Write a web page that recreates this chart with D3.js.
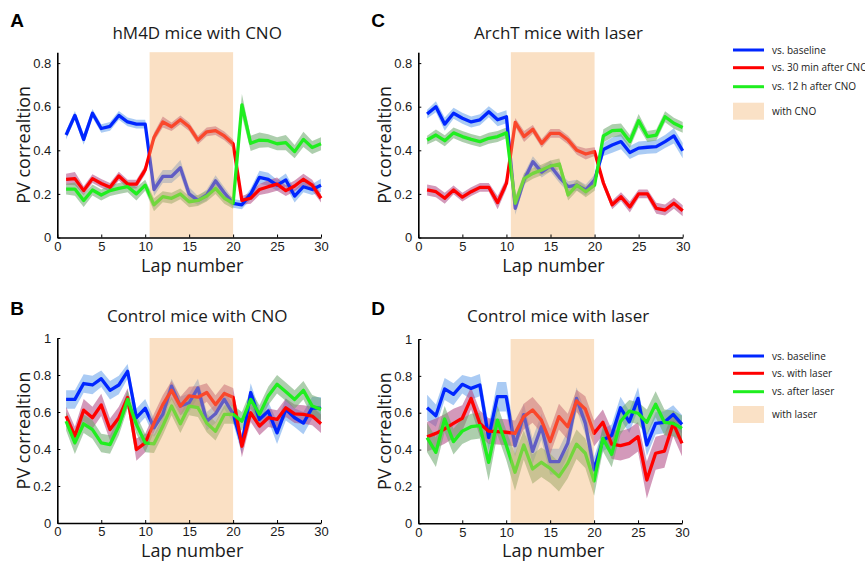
<!DOCTYPE html>
<html>
<head>
<meta charset="utf-8">
<script src="https://cdn.jsdelivr.net/npm/d3@7"></script>
<style>
  body { margin: 0; background: #fff; }
  svg { display: block; }
  .tick text { font-family: "Liberation Sans", Arial, sans-serif; font-size: 13px; fill: #1a1a1a; }
  .lbl { font-family: "Open Sans", "Noto Sans", sans-serif; fill: #1a1a1a; }
  .letter { font-family: "Liberation Sans", Arial, sans-serif; font-weight: bold; font-size: 19px; fill: #000; }
</style>
</head>
<body>
<svg width="865" height="571"></svg>
<script>
// lap numbers and axis ticks
const laps = [1,2,3,4,5,6,7,8,9,10,11,12,13,14,15,16,17,18,19,20,21,22,23,24,25,26,27,28,29,30];
const xTicks = [0, 5, 10, 15, 20, 25, 30];
const yTicksTop = [0, 0.2, 0.4, 0.6, 0.8];
const yTicksBottom = [0, 0.2, 0.4, 0.6, 0.8, 1];
const shadeLaps = [10.5, 20];

const legendCNO = ["vs. baseline", "vs. 30 min after CNO", "vs. 12 h after CNO", "with CNO"];
const legendLaser = ["vs. baseline", "vs. with laser", "vs. after laser", "with laser"];

// A: hM4D mice with CNO
const aBlue  = [0.47,0.56,0.45,0.57,0.50,0.51,0.56,0.53,0.52,0.52,0.22,0.28,0.28,0.32,0.20,0.17,0.195,0.26,0.205,0.157,0.15,0.20,0.276,0.267,0.24,0.264,0.19,0.233,0.22,0.24];
const aBlueE = [0.02,0.02,0.025,0.02,0.02,0.02,0.02,0.02,0.02,0.02,0.03,0.03,0.03,0.035,0.03,0.02,0.025,0.025,0.025,0.02,0.02,0.025,0.03,0.03,0.025,0.03,0.03,0.025,0.025,0.03];
const aRed   = [0.267,0.27,0.215,0.27,0.248,0.23,0.282,0.245,0.245,0.31,0.46,0.53,0.508,0.54,0.508,0.447,0.485,0.49,0.466,0.43,0.17,0.18,0.22,0.233,0.245,0.215,0.236,0.267,0.24,0.18];
const aRedE  = [0.025,0.03,0.02,0.02,0.02,0.02,0.02,0.02,0.02,0.02,0.02,0.025,0.02,0.02,0.02,0.02,0.02,0.02,0.02,0.02,0.02,0.025,0.025,0.03,0.03,0.025,0.025,0.025,0.025,0.02];
const aGreen = [0.222,0.222,0.17,0.218,0.195,0.215,0.225,0.233,0.20,0.24,0.15,0.187,0.18,0.20,0.164,0.17,0.19,0.225,0.18,0.157,0.608,0.432,0.447,0.444,0.43,0.435,0.394,0.45,0.413,0.43];
const aGreenE= [0.025,0.03,0.03,0.025,0.025,0.025,0.025,0.025,0.03,0.025,0.03,0.025,0.025,0.025,0.025,0.025,0.025,0.025,0.025,0.025,0.05,0.035,0.035,0.03,0.03,0.035,0.03,0.035,0.03,0.03];

// C: ArchT mice with laser
const cBlue  = [0.566,0.60,0.52,0.57,0.547,0.53,0.54,0.577,0.54,0.554,0.134,0.264,0.348,0.30,0.328,0.276,0.233,0.24,0.218,0.264,0.404,0.424,0.44,0.39,0.41,0.414,0.417,0.44,0.466,0.398];
const cBlueE = [0.02,0.025,0.03,0.025,0.025,0.025,0.025,0.025,0.03,0.03,0.03,0.03,0.025,0.025,0.025,0.025,0.025,0.025,0.025,0.025,0.03,0.035,0.035,0.03,0.03,0.03,0.03,0.03,0.035,0.035];
const cRed   = [0.218,0.21,0.18,0.218,0.185,0.21,0.23,0.23,0.16,0.248,0.528,0.463,0.496,0.432,0.478,0.478,0.447,0.40,0.383,0.394,0.25,0.15,0.187,0.14,0.20,0.20,0.134,0.126,0.157,0.123];
const cRedE  = [0.025,0.025,0.025,0.02,0.02,0.02,0.02,0.02,0.03,0.025,0.02,0.025,0.02,0.02,0.02,0.02,0.02,0.02,0.025,0.02,0.02,0.02,0.02,0.025,0.02,0.02,0.025,0.025,0.025,0.025];
const cGreen = [0.447,0.47,0.444,0.48,0.463,0.45,0.44,0.455,0.463,0.48,0.157,0.27,0.294,0.31,0.328,0.337,0.195,0.24,0.21,0.24,0.466,0.49,0.493,0.44,0.536,0.463,0.47,0.554,0.524,0.505];
const cGreenE= [0.02,0.025,0.025,0.025,0.025,0.025,0.025,0.025,0.025,0.025,0.03,0.025,0.025,0.025,0.025,0.025,0.025,0.025,0.025,0.025,0.03,0.03,0.03,0.03,0.03,0.025,0.025,0.025,0.025,0.025];

// B: Control mice with CNO
const bBlue  = [0.668,0.668,0.754,0.746,0.78,0.717,0.746,0.82,0.569,0.62,0.515,0.587,0.74,0.632,0.65,0.73,0.55,0.59,0.668,0.59,0.424,0.705,0.56,0.605,0.487,0.614,0.569,0.54,0.623,0.62];
const bBlueE = [0.05,0.05,0.05,0.05,0.045,0.05,0.05,0.04,0.05,0.05,0.05,0.05,0.04,0.05,0.05,0.05,0.05,0.05,0.05,0.05,0.05,0.05,0.05,0.05,0.06,0.06,0.05,0.06,0.06,0.06];
const bRed   = [0.578,0.47,0.61,0.569,0.638,0.505,0.569,0.678,0.397,0.433,0.54,0.64,0.717,0.632,0.687,0.68,0.705,0.64,0.70,0.68,0.415,0.596,0.524,0.569,0.56,0.623,0.59,0.587,0.578,0.536];
const bRedE  = [0.05,0.05,0.06,0.06,0.06,0.06,0.06,0.05,0.06,0.05,0.05,0.05,0.05,0.05,0.05,0.06,0.05,0.05,0.05,0.05,0.06,0.05,0.05,0.05,0.05,0.05,0.05,0.05,0.05,0.05];
const bGreen = [0.55,0.433,0.536,0.505,0.433,0.424,0.524,0.668,0.533,0.433,0.428,0.524,0.632,0.536,0.632,0.623,0.54,0.496,0.587,0.587,0.55,0.668,0.587,0.687,0.75,0.71,0.668,0.717,0.632,0.614];
const bGreenE= [0.05,0.06,0.05,0.05,0.05,0.05,0.05,0.05,0.05,0.05,0.05,0.05,0.05,0.05,0.05,0.05,0.05,0.05,0.05,0.05,0.05,0.05,0.05,0.05,0.05,0.05,0.05,0.05,0.06,0.06];

// D: Control mice with laser
const dBlue  = [0.627,0.584,0.729,0.70,0.754,0.732,0.75,0.465,0.687,0.687,0.421,0.59,0.39,0.524,0.335,0.335,0.434,0.678,0.542,0.29,0.452,0.476,0.627,0.55,0.678,0.425,0.542,0.548,0.591,0.537];
const dBlueE = [0.07,0.06,0.06,0.06,0.05,0.06,0.06,0.07,0.08,0.08,0.06,0.06,0.07,0.07,0.07,0.07,0.07,0.06,0.06,0.07,0.06,0.06,0.06,0.06,0.06,0.06,0.06,0.06,0.05,0.05];
const dRed   = [0.47,0.488,0.512,0.542,0.57,0.678,0.542,0.50,0.497,0.494,0.488,0.579,0.615,0.56,0.443,0.579,0.524,0.664,0.62,0.488,0.548,0.429,0.421,0.434,0.47,0.235,0.38,0.392,0.542,0.434];
const dRedE  = [0.08,0.08,0.08,0.08,0.07,0.06,0.07,0.07,0.07,0.07,0.07,0.07,0.07,0.07,0.07,0.07,0.07,0.06,0.07,0.07,0.07,0.08,0.08,0.08,0.08,0.1,0.09,0.09,0.07,0.07];
const dGreen = [0.465,0.385,0.566,0.443,0.50,0.524,0.53,0.331,0.56,0.425,0.277,0.425,0.295,0.331,0.298,0.253,0.325,0.429,0.38,0.23,0.461,0.374,0.552,0.609,0.597,0.548,0.646,0.548,0.542,0.515];
const dGreenE= [0.08,0.08,0.07,0.07,0.07,0.07,0.07,0.1,0.08,0.08,0.1,0.08,0.08,0.08,0.08,0.08,0.08,0.08,0.08,0.08,0.07,0.07,0.07,0.06,0.06,0.07,0.07,0.07,0.07,0.07];

const lineColors = ["#0026ff", "#ff0000", "#1fee1f"];
const bandColors = ["rgb(100,160,235)", "rgb(175,70,130)", "rgb(105,165,105)"];
const shadeColor = "rgb(242,178,108)";
const legendShade = "#fae1c6";

const svg = d3.select("svg");

function panel(p) {
  const x = d3.scaleLinear().domain([0, 30]).range([p.left, p.right]);
  const y = d3.scaleLinear().domain([0, p.ymax]).range([p.bottom, p.top]);
  const g = svg.append("g");

  const band = d3.area()
    .x((d, i) => x(laps[i]))
    .y0(d => y(d[0] - d[1]))
    .y1(d => y(d[0] + d[1]));
  const line = d3.line()
    .x((d, i) => x(laps[i]))
    .y(d => y(d));

  p.series.forEach((s, k) => {
    g.append("path")
      .datum(s.vals.map((v, i) => [v, s.err[i]]))
      .attr("d", band)
      .attr("fill", bandColors[k])
      .attr("fill-opacity", 0.55);
  });
  p.series.forEach((s, k) => {
    g.append("path")
      .datum(s.vals)
      .attr("d", line)
      .attr("fill", "none")
      .attr("stroke", lineColors[k])
      .attr("stroke-width", 3.3)
      .attr("stroke-linejoin", "round");
  });

  // shaded window, drawn over the curves
  g.append("rect")
    .attr("x", x(shadeLaps[0]))
    .attr("y", y(p.ymax))
    .attr("width", x(shadeLaps[1]) - x(shadeLaps[0]))
    .attr("height", y(0) - y(p.ymax))
    .attr("fill", shadeColor)
    .attr("fill-opacity", 0.4);

  const ya = g.append("g")
    .attr("transform", `translate(${p.left},0)`)
    .call(d3.axisLeft(y).tickValues(p.yTicks).tickFormat(d => String(d)).tickSizeInner(-3).tickSizeOuter(0).tickPadding(6));
  const xa = g.append("g")
    .attr("transform", `translate(0,${p.bottom})`)
    .call(d3.axisBottom(x).tickValues(xTicks).tickFormat(d => String(d)).tickSizeInner(-3).tickSizeOuter(0).tickPadding(4));
  [ya, xa].forEach(a => {
    a.select(".domain").attr("stroke", "#000").attr("stroke-width", 1.6);
    a.selectAll(".tick line").attr("stroke", "#000");
  });

  const cx = (p.left + p.right) / 2 + 8;
  g.append("text").attr("class", "lbl")
    .attr("x", cx).attr("y", p.titleY)
    .attr("text-anchor", "middle").attr("font-size", 17)
    .text(p.title);
  g.append("text").attr("class", "lbl")
    .attr("x", cx - 5).attr("y", p.bottom + 34)
    .attr("text-anchor", "middle").attr("font-size", 18)
    .text("Lap number");
  g.append("text").attr("class", "lbl")
    .attr("transform", `translate(${p.left - 27},${(p.top + p.bottom) / 2}) rotate(-90)`)
    .attr("text-anchor", "middle").attr("font-size", 18)
    .text("PV correaltion");
  g.append("text").attr("class", "letter")
    .attr("x", p.left - 47).attr("y", p.letterY)
    .text(p.letter);
}

panel({ letter: "A", title: "hM4D mice with CNO", left: 57.3, right: 321, top: 52.2, bottom: 237.5, ymax: 0.85,
  yTicks: yTicksTop, titleY: 38.5, letterY: 27,
  series: [{ vals: aBlue, err: aBlueE }, { vals: aRed, err: aRedE }, { vals: aGreen, err: aGreenE }] });
panel({ letter: "C", title: "ArchT mice with laser", left: 418.3, right: 682.7, top: 52.2, bottom: 237.5, ymax: 0.85,
  yTicks: yTicksTop, titleY: 38.5, letterY: 27,
  series: [{ vals: cBlue, err: cBlueE }, { vals: cRed, err: cRedE }, { vals: cGreen, err: cGreenE }] });
panel({ letter: "B", title: "Control mice with CNO", left: 57.3, right: 321, top: 338, bottom: 523, ymax: 1,
  yTicks: yTicksBottom, titleY: 322, letterY: 315,
  series: [{ vals: bBlue, err: bBlueE }, { vals: bRed, err: bRedE }, { vals: bGreen, err: bGreenE }] });
panel({ letter: "D", title: "Control mice with laser", left: 418.3, right: 682, top: 339, bottom: 523.3, ymax: 1,
  yTicks: yTicksBottom, titleY: 322, letterY: 315,
  series: [{ vals: dBlue, err: dBlueE }, { vals: dRed, err: dRedE }, { vals: dGreen, err: dGreenE }] });

function legend(labels, ys, rectY) {
  const g = svg.append("g");
  ys.forEach((yy, k) => {
    g.append("line").attr("x1", 733).attr("x2", 764).attr("y1", yy).attr("y2", yy)
      .attr("stroke", lineColors[k]).attr("stroke-width", 3);
    g.append("text").attr("class", "lbl").attr("x", 772).attr("y", yy + 3.5)
      .attr("font-size", 10).text(labels[k]);
  });
  g.append("rect").attr("x", 733).attr("y", rectY).attr("width", 31).attr("height", 17).attr("fill", legendShade);
  g.append("text").attr("class", "lbl").attr("x", 772).attr("y", rectY + 12)
    .attr("font-size", 10).text(labels[3]);
}
legend(legendCNO, [50, 67.7, 86.7], 102.7);
legend(legendLaser, [356, 373.3, 391.7], 406);
</script>
</body>
</html>
